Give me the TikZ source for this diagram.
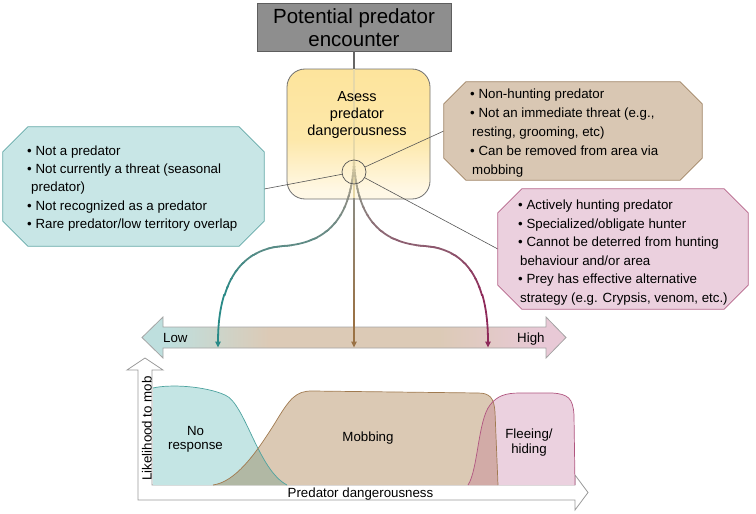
\documentclass[tikz,border=0pt]{standalone}
\usepackage{fontspec}
\setmainfont{Liberation Sans}
\usetikzlibrary{arrows.meta,calc}

\definecolor{gboxF}{HTML}{8E8E8E}
\definecolor{gboxD}{HTML}{5E5E5E}
\definecolor{lineG}{HTML}{666666}
\definecolor{connC}{HTML}{555555}
\definecolor{yTop}{HTML}{FDE49C}
\definecolor{yMid}{HTML}{FDE8AA}
\definecolor{yBot}{HTML}{FFF8E6}
\definecolor{yboxD}{HTML}{707070}
\definecolor{tealF}{HTML}{C8E6E6}
\definecolor{tealD}{HTML}{62A8A7}
\definecolor{brnF}{HTML}{D9C7B3}
\definecolor{brnD}{HTML}{A08465}
\definecolor{pnkF}{HTML}{EBD0DE}
\definecolor{pnkD}{HTML}{B5648A}
\definecolor{arrT}{HTML}{BEDFDE}
\definecolor{arrB}{HTML}{DCCAB6}
\definecolor{arrP}{HTML}{E8C9D6}
\definecolor{arrD}{HTML}{A4A4A4}
\definecolor{curT}{HTML}{2A8A87}
\definecolor{curB}{HTML}{9A7245}
\definecolor{curP}{HTML}{8E2A5A}
\definecolor{curG}{HTML}{8C8C84}
\definecolor{curL}{HTML}{E6D8A8}
\definecolor{areaT}{HTML}{C4E5E4}
\definecolor{areaTD}{HTML}{4EA3A0}
\definecolor{areaB}{HTML}{DBC9B4}
\definecolor{areaBD}{HTML}{A07A50}
\definecolor{areaP}{HTML}{EBD1DF}
\definecolor{areaPD}{HTML}{B0557F}
\definecolor{ovTB}{HTML}{B1B8A4}
\definecolor{ovBP}{HTML}{D2ABA7}
\definecolor{axisD}{HTML}{9A9A9A}

\pgfdeclareverticalshading{yshade}{100bp}{color(0bp)=(yBot); color(28bp)=(yBot); color(48bp)=(yMid); color(75bp)=(yTop); color(100bp)=(yTop)}
\pgfdeclarehorizontalshading{lowhigh}{100bp}{color(0bp)=(arrT); color(28bp)=(arrT); color(40bp)=(arrB); color(60bp)=(arrB); color(72bp)=(arrP); color(100bp)=(arrP)}

\newcommand{\octa}[3]{%
 \path[#3] ($(#1.north west)+(#2,0)$) -- ($(#1.north east)+(-#2,0)$) -- ($(#1.north east)+(0,#2)$) -- ($(#1.south east)+(0,-#2)$) -- ($(#1.south east)+(-#2,0)$) -- ($(#1.south west)+(#2,0)$) -- ($(#1.south west)+(0,-#2)$) -- ($(#1.north west)+(0,#2)$) -- cycle;}

\newcommand{\bandseg}[4]{%
 \begin{scope}\clip (0,#2) rectangle (756,#3); \draw[#4] #1; \end{scope}}

\newcommand{\gradline}[5]{%
 \foreach \k in {0,...,11}{%
  \pgfmathsetmacro{\ya}{#2+(#3-#2)*\k/12-0.4}%
  \pgfmathsetmacro{\yb}{#2+(#3-#2)*(\k+1)/12+0.4}%
  \pgfmathtruncatemacro{\pc}{round(100-(\k+0.5)*100/12)}%
  \begin{scope}\clip (0,\ya) rectangle (756,\yb); \draw[curve, #4!\pc!#5] #1; \end{scope}}}

\begin{document}
\begin{tikzpicture}[x=1pt,y=-1pt,
  curve/.style={line width=1.8pt},
  endtip/.style={-{Triangle[length=6pt,width=5.5pt]}},
  conn/.style={draw=connC, line width=0.6pt},
  btxt/.style={font=\fontsize{13.3}{15}\selectfont, inner sep=0pt, anchor=base west},
  ctxt/.style={font=\fontsize{13.3}{15}\selectfont, inner sep=0pt, anchor=base},
  ytxt/.style={font=\fontsize{14.5}{17}\selectfont, inner sep=0pt, anchor=base},
  ttxt/.style={font=\fontsize{20.5}{24}\selectfont, inner sep=0pt, anchor=base},
]
\useasboundingbox (0,0) rectangle (756,514);

% top box
\node[fill=gboxF, draw=gboxD, line width=0.8pt, minimum width=194pt, minimum height=48pt, inner sep=0pt] (gbox) at (354,27) {};
\node[ttxt] (t1) at (354,23.5) {Potential predator};
\node[ttxt] (t2) at (354,46.5) {encounter};

% assess box
\node[shade, shading=yshade, draw=yboxD, line width=0.8pt, rounded corners=18pt, minimum width=143pt, minimum height=130pt, inner sep=0pt] (ybox) at (358.5,134) {};

% low-high double arrow
\path[shade, shading=lowhigh, draw=arrD, line width=0.8pt] (142,337.5) -- (163,317) -- (163,327) -- (546,327) -- (546,317) -- (566,337.5) -- (546,358) -- (546,348) -- (163,348) -- (163,358) -- cycle;
\coordinate (tLow) at (218,347.5);
\coordinate (tMid) at (354,347.5);
\coordinate (tHigh) at (488,347.5);

\node[circle, minimum size=24pt, inner sep=0pt] (hub) at (354,172) {};

% center line
\bandseg{(gbox.south) -- (tMid)}{45}{69.4}{curve, lineG}
\bandseg{(gbox.south) -- (tMid)}{69}{199.4}{curve, curL}
\gradline{(gbox.south) -- (tMid)}{199}{320}{curG}{curB}
\bandseg{(gbox.south) -- (tMid)}{319.6}{370}{curve, curB, endtip}

% teal curve
\gradline{(hub.north) .. controls (352,215) and (330,243) .. (283,246) .. controls (235,250) and (218,290) .. (tLow)}{160}{199}{curL}{curG}
\gradline{(hub.north) .. controls (352,215) and (330,243) .. (283,246) .. controls (235,250) and (218,290) .. (tLow)}{199}{295}{curG}{curT}
\bandseg{(hub.north) .. controls (352,215) and (330,243) .. (283,246) .. controls (235,250) and (218,290) .. (tLow)}{294.6}{370}{curve, curT, endtip}

% pink curve
\gradline{(hub.north) .. controls (356,215) and (378,243) .. (425,246) .. controls (473,250) and (488,290) .. (tHigh)}{160}{199}{curL}{curG}
\gradline{(hub.north) .. controls (356,215) and (378,243) .. (425,246) .. controls (473,250) and (488,290) .. (tHigh)}{199}{295}{curG}{curP}
\bandseg{(hub.north) .. controls (356,215) and (378,243) .. (425,246) .. controls (473,250) and (488,290) .. (tHigh)}{294.6}{370}{curve, curP, endtip}

% hub circle
\draw[connC, line width=0.7pt] (hub.center) circle[radius=12pt];

% info boxes
\node[minimum width=261pt, minimum height=119pt, inner sep=0pt] (tbox) at (133.5,186.5) {};
\node[minimum width=258pt, minimum height=98pt, inner sep=0pt] (bbox) at (573,131) {};
\node[minimum width=250pt, minimum height=120pt, inner sep=0pt] (pbox) at (623,249) {};

\draw[conn] (hub) -- ($(tbox.east)+(0,2.5)$);
\draw[conn] (hub) -- (bbox.west);
\draw[conn] (hub) -- (pbox.west);

\octa{tbox}{25}{fill=tealF, draw=tealD, line width=0.8pt}
\octa{bbox}{22}{fill=brnF, draw=brnD, line width=0.8pt}
\octa{pbox}{24}{fill=pnkF, draw=pnkD, line width=0.8pt}

\node[btxt] (a1) at (27,155) {•\ Not a predator};
\node[btxt] (a2) at (27,173.3) {•\ Not currently a threat (seasonal};
\node[btxt] (a3) at (31,191.6) {predator)};
\node[btxt] (a4) at (27,210) {•\ Not recognized as a predator};
\node[btxt] (a5) at (27,228.3) {•\ Rare predator/low territory overlap};

\node[btxt] (b1) at (470,98.7) {•\ Non-hunting predator};
\node[btxt] (b2) at (470,117.5) {•\ Not an immediate threat (e.g.,};
\node[btxt] (b3) at (472,136.3) {resting, grooming, etc)};
\node[btxt] (b4) at (470,155.1) {•\ Can be removed from area via};
\node[btxt] (b5) at (472,174) {mobbing};

\node[btxt] (c1) at (518,209.5) {•\ Actively hunting predator};
\node[btxt] (c2) at (518,228) {•\ Specialized/obligate hunter};
\node[btxt] (c3) at (518,246.5) {•\ Cannot be deterred from hunting};
\node[btxt] (c4) at (520,265) {behaviour and/or area};
\node[btxt] (c5) at (518,283.5) {•\ Prey has effective alternative};
\node[btxt] (c6) at (520,302) {strategy (e.g. Crypsis, venom, etc.)};

% assess text
\node[ytxt] (y1) at (357,101) {Asess};
\node[ytxt] (y2) at (357,118) {predator};
\node[ytxt] (y3) at (357,135.5) {dangerousness};

\node[btxt] (low) at (163,342.5) {Low};
\node[btxt] (high) at (517,342.5) {High};

% bottom graph axes
\path[fill=white, draw=axisD, line width=0.8pt] (138,370) -- (138,500) -- (575,500) -- (575,510) -- (588,492.5) -- (575,475) -- (575,485) -- (152,485) -- (152,370) -- (163,370) -- (145,358) -- (127,370) -- cycle;

% areas
\fill[areaT] (153,485) -- (153,388) .. controls (170,384) and (205,386) .. (225,395) .. controls (245,403) and (258,470) .. (287,485) -- cycle;
\fill[areaB] (213,485) .. controls (235,482) and (255,455) .. (275,423) .. controls (290,398) and (296,391) .. (312,391) -- (478,393) .. controls (490,393) and (494,398) .. (495,412) -- (498,485) -- cycle;
\fill[areaP] (468,485) .. controls (478,470) and (478,420) .. (490,405) .. controls (497,396) and (505,393) .. (520,393) -- (552,393) .. controls (568,394) and (573,398) .. (574,415) -- (575,485) -- cycle;
\begin{scope}
\clip (153,485) -- (153,388) .. controls (170,384) and (205,386) .. (225,395) .. controls (245,403) and (258,470) .. (287,485) -- cycle;
\fill[ovTB] (213,485) .. controls (235,482) and (255,455) .. (275,423) .. controls (290,398) and (296,391) .. (312,391) -- (478,393) .. controls (490,393) and (494,398) .. (495,412) -- (498,485) -- cycle;
\end{scope}
\begin{scope}
\clip (468,485) .. controls (478,470) and (478,420) .. (490,405) .. controls (497,396) and (505,393) .. (520,393) -- (552,393) .. controls (568,394) and (573,398) .. (574,415) -- (575,485) -- cycle;
\fill[ovBP] (213,485) .. controls (235,482) and (255,455) .. (275,423) .. controls (290,398) and (296,391) .. (312,391) -- (478,393) .. controls (490,393) and (494,398) .. (495,412) -- (498,485) -- cycle;
\end{scope}
\draw[areaTD, line width=0.7pt] (153,388) .. controls (170,384) and (205,386) .. (225,395) .. controls (245,403) and (258,470) .. (287,485);
\draw[areaBD, line width=0.7pt] (213,485) .. controls (235,482) and (255,455) .. (275,423) .. controls (290,398) and (296,391) .. (312,391) -- (478,393) .. controls (490,393) and (494,398) .. (495,412) -- (498,485);
\draw[areaPD, line width=0.7pt] (468,485) .. controls (478,470) and (478,420) .. (490,405) .. controls (497,396) and (505,393) .. (520,393) -- (552,393) .. controls (568,394) and (573,398) .. (574,415) -- (575,485);

\node[ctxt] (n1) at (195.5,435) {No};
\node[ctxt] (n2) at (195.5,449.5) {response};
\node[ctxt] (m1) at (368,441.5) {Mobbing};
\node[ctxt] (f1) at (529,438) {Fleeing/};
\node[ctxt] (f2) at (529,453.5) {hiding};
\node[ctxt] (xl) at (360.5,497) {Predator dangerousness};
\node[ctxt, rotate=90] (yl) at (151.5,428.5) {Likelihood to mob};
\end{tikzpicture}
\end{document}
